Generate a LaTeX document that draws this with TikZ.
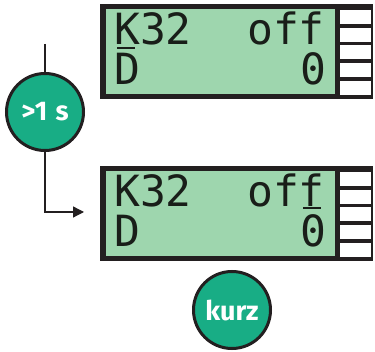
\documentclass[tikz,border=0pt]{standalone}
\usepackage{fontspec}
\setsansfont{Fira Sans}
\newfontfamily\lcdfont{DejaVu Sans Mono}
\usetikzlibrary{arrows.meta}
\definecolor{framec}{RGB}{35,31,32}
\definecolor{lcdgreen}{RGB}{158,214,174}
\definecolor{teal}{RGB}{24,173,133}
\definecolor{lcdtext}{RGB}{25,30,25}
\tikzset{
  x=1pt, y=-1pt,
  lcd/.style={anchor=base west, inner sep=0pt, text=lcdtext, font=\lcdfont\fontsize{43}{43}\selectfont},
  badge/.style={circle, draw=framec, line width=3pt, fill=teal, minimum size=77pt, inner sep=0pt, text=white, font=\sffamily\bfseries\fontsize{27}{27}\selectfont},
  conn/.style={draw=framec, line width=1.3pt},
  cursor/.style={draw=lcdtext, line width=2.2pt},
}
\newcommand{\lcdpanel}[1]{%
  \begin{scope}[yshift=#1]
    \fill[framec] (100,4) rectangle (373,99);
    \fill[lcdgreen] (106,9) rectangle (335,94);
    \foreach \t in {10,27.8,45.5,63.3,81}{
      \fill[white] (340,\t) rectangle (371,\t+14);
    }
  \end{scope}}
\begin{document}
\begin{tikzpicture}
\useasboundingbox (0,0) rectangle (375,352);
\lcdpanel{0}
\lcdpanel{-162}
% top display text
\node[lcd] (t1) at (114,45) {K32};
\node[lcd] (t2) at (247,45) {off};
\node[lcd] (t3) at (114,85) {D};
\node[lcd] (t4) at (300,85) {0};
\draw[cursor] (117,48) -- (135,48);
% bottom display text
\node[lcd] (b1) at (114,207) {K32};
\node[lcd] (b2) at (247,207) {off};
\node[lcd] (b3) at (114,247) {D};
\node[lcd] (b4) at (300,247) {0};
\draw[cursor] (303,208) -- (321,208);
% badges
\node[badge] (long) at (45,112) {>1\hspace{0.3em}s};
\node[badge] (short) at (232,310) {kurz};
% connectors
\coordinate (in) at (45,44);
\coordinate (out) at (84,212);
\draw[conn] (in) -- (long.north);
\draw[conn, -{Triangle[length=11pt,width=11pt]}] (long.south) |- (out);
\end{tikzpicture}
\end{document}
